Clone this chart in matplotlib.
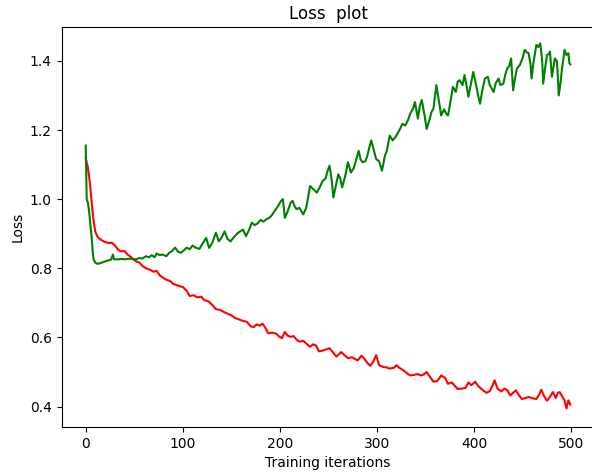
import matplotlib
matplotlib.use("Agg")
import matplotlib.pyplot as plt

# Training loss (red) sampled at the listed iterations
train_iters = [0, 1, 2, 3, 4, 5, 6, 7, 8, 9, 10, 12, 14, 17, 20, 24, 27, 30, 33, 36,
               40, 43, 46, 49, 52, 55, 58, 62, 66, 70, 73, 76, 80, 83, 87, 90, 93, 97,
               100, 104, 107, 111, 115, 119, 122, 126, 130, 134, 138, 142, 146, 150,
               154, 158, 162, 166, 170, 173, 176, 179, 182, 185, 188, 192, 196, 199,
               202, 205, 208, 211, 214, 217, 220, 224, 228, 231, 234, 237, 240, 244,
               248, 251, 255, 258, 261, 263, 266, 270, 274, 277, 280, 284, 287, 290,
               293, 296, 299, 302, 306, 310, 313, 317, 320, 323, 327, 331, 334, 338,
               342, 345, 348, 351, 354, 358, 362, 366, 370, 373, 377, 380, 383, 387,
               391, 394, 397, 401, 404, 407, 410, 413, 416, 419, 421, 424, 428, 431,
               434, 437, 440, 443, 446, 449, 452, 456, 460, 464, 467, 469, 472, 475,
               478, 481, 484, 486, 488, 491, 493, 495, 497, 499]
train_loss = [1.120, 1.105, 1.095, 1.075, 1.055, 1.025, 0.995, 0.965, 0.940, 0.920,
              0.905, 0.892, 0.886, 0.880, 0.876, 0.873, 0.874, 0.866, 0.855, 0.849,
              0.850, 0.840, 0.834, 0.826, 0.820, 0.817, 0.808, 0.800, 0.796, 0.790,
              0.793, 0.780, 0.772, 0.767, 0.763, 0.755, 0.752, 0.748, 0.746, 0.735,
              0.720, 0.722, 0.716, 0.718, 0.708, 0.705, 0.695, 0.682, 0.680, 0.674,
              0.669, 0.664, 0.656, 0.652, 0.648, 0.645, 0.632, 0.630, 0.638, 0.634,
              0.640, 0.628, 0.612, 0.614, 0.611, 0.603, 0.598, 0.616, 0.605, 0.602,
              0.604, 0.594, 0.588, 0.590, 0.580, 0.573, 0.580, 0.577, 0.560, 0.562,
              0.566, 0.569, 0.555, 0.545, 0.552, 0.558, 0.550, 0.540, 0.543, 0.538,
              0.534, 0.547, 0.538, 0.526, 0.518, 0.530, 0.549, 0.520, 0.515, 0.513,
              0.510, 0.512, 0.520, 0.512, 0.505, 0.496, 0.490, 0.492, 0.494, 0.490,
              0.493, 0.500, 0.488, 0.472, 0.474, 0.490, 0.483, 0.466, 0.470, 0.460,
              0.451, 0.452, 0.454, 0.470, 0.462, 0.472, 0.460, 0.452, 0.445, 0.440,
              0.445, 0.462, 0.476, 0.452, 0.444, 0.452, 0.448, 0.432, 0.440, 0.447,
              0.433, 0.422, 0.424, 0.428, 0.424, 0.422, 0.436, 0.449, 0.430, 0.417,
              0.428, 0.442, 0.425, 0.440, 0.442, 0.428, 0.418, 0.395, 0.418, 0.406]

# Validation loss (green) sampled at the listed iterations
val_iters = [0, 1, 2, 3, 4, 5, 6, 7, 8, 10, 12, 15, 18, 22, 26, 28, 29, 33, 37, 41,
             45, 49, 52, 55, 58, 62, 65, 68, 71, 73, 76, 79, 83, 86, 89, 92, 95, 98,
             101, 104, 107, 110, 113, 117, 120, 124, 127, 130, 134, 137, 140, 143,
             146, 149, 152, 155, 158, 162, 165, 168, 171, 174, 177, 180, 183, 186,
             189, 192, 195, 198, 201, 203, 205, 208, 211, 213, 215, 217, 220, 224,
             227, 231, 234, 238, 241, 244, 247, 249, 251, 253, 255, 258, 260, 262,
             264, 267, 270, 273, 276, 279, 281, 283, 285, 288, 290, 292, 294, 296,
             299, 302, 305, 308, 310, 313, 316, 319, 321, 324, 326, 329, 332, 334,
             337, 339, 342, 344, 346, 349, 351, 354, 356, 358, 361, 363, 366, 369,
             371, 373, 376, 378, 381, 383, 385, 388, 390, 392, 394, 397, 399, 402,
             404, 406, 408, 411, 414, 416, 420, 422, 425, 427, 430, 432, 434, 436,
             438, 440, 442, 444, 447, 450, 452, 454, 456, 458, 459, 461, 464, 466,
             468, 470, 471, 473, 475, 477, 478, 480, 482, 483, 485, 486, 487, 489,
             490, 492, 493, 495, 497, 498, 499]
val_loss = [1.155, 1.000, 0.992, 0.975, 0.951, 0.920, 0.893, 0.855, 0.826, 0.816,
            0.813, 0.815, 0.818, 0.822, 0.825, 0.840, 0.826, 0.826, 0.827, 0.826,
            0.828, 0.827, 0.826, 0.830, 0.828, 0.835, 0.832, 0.838, 0.832, 0.843,
            0.838, 0.840, 0.835, 0.845, 0.850, 0.860, 0.848, 0.845, 0.852, 0.860,
            0.855, 0.866, 0.860, 0.856, 0.870, 0.888, 0.859, 0.872, 0.903, 0.878,
            0.890, 0.907, 0.885, 0.878, 0.888, 0.898, 0.905, 0.912, 0.893, 0.910,
            0.932, 0.925, 0.930, 0.940, 0.935, 0.942, 0.946, 0.955, 0.968, 0.980,
            0.995, 1.000, 0.946, 0.965, 0.990, 0.995, 0.980, 0.971, 0.975, 0.956,
            0.975, 1.038, 1.030, 1.019, 1.035, 1.053, 1.060, 1.082, 1.097, 1.060,
            1.005, 1.045, 1.072, 1.060, 1.034, 1.065, 1.107, 1.077, 1.090, 1.120,
            1.140, 1.115, 1.107, 1.110, 1.126, 1.150, 1.170, 1.148, 1.116, 1.110,
            1.082, 1.125, 1.140, 1.184, 1.170, 1.180, 1.190, 1.205, 1.218, 1.213,
            1.230, 1.247, 1.262, 1.281, 1.233, 1.270, 1.287, 1.240, 1.203, 1.230,
            1.252, 1.262, 1.330, 1.295, 1.242, 1.260, 1.248, 1.242, 1.290, 1.325,
            1.310, 1.340, 1.344, 1.330, 1.359, 1.330, 1.296, 1.340, 1.368, 1.330,
            1.300, 1.276, 1.310, 1.349, 1.354, 1.330, 1.310, 1.335, 1.349, 1.330,
            1.334, 1.360, 1.378, 1.385, 1.407, 1.315, 1.350, 1.378, 1.388, 1.410,
            1.432, 1.425, 1.422, 1.390, 1.349, 1.395, 1.446, 1.440, 1.451, 1.400,
            1.334, 1.380, 1.417, 1.420, 1.427, 1.354, 1.390, 1.407, 1.400, 1.360,
            1.300, 1.340, 1.368, 1.410, 1.432, 1.417, 1.422, 1.393, 1.390]

fig = plt.figure(figsize=(5.92, 4.72), dpi=100)
ax = fig.add_axes([0.1039, 0.0953, 0.9005, 0.8475])

ax.plot(train_iters, train_loss, color="red", linewidth=1.5)
ax.plot(val_iters, val_loss, color="green", linewidth=1.5)

ax.set_xlim(-24.95, 523.95)
ax.set_ylim(0.341, 1.498)
ax.set_xticks([0, 100, 200, 300, 400, 500])
ax.set_yticks([0.4, 0.6, 0.8, 1.0, 1.2, 1.4])

ax.set_title("Loss  plot")
ax.set_xlabel("Training iterations")
ax.set_ylabel("Loss")

fig.savefig("out.png", dpi=100)
